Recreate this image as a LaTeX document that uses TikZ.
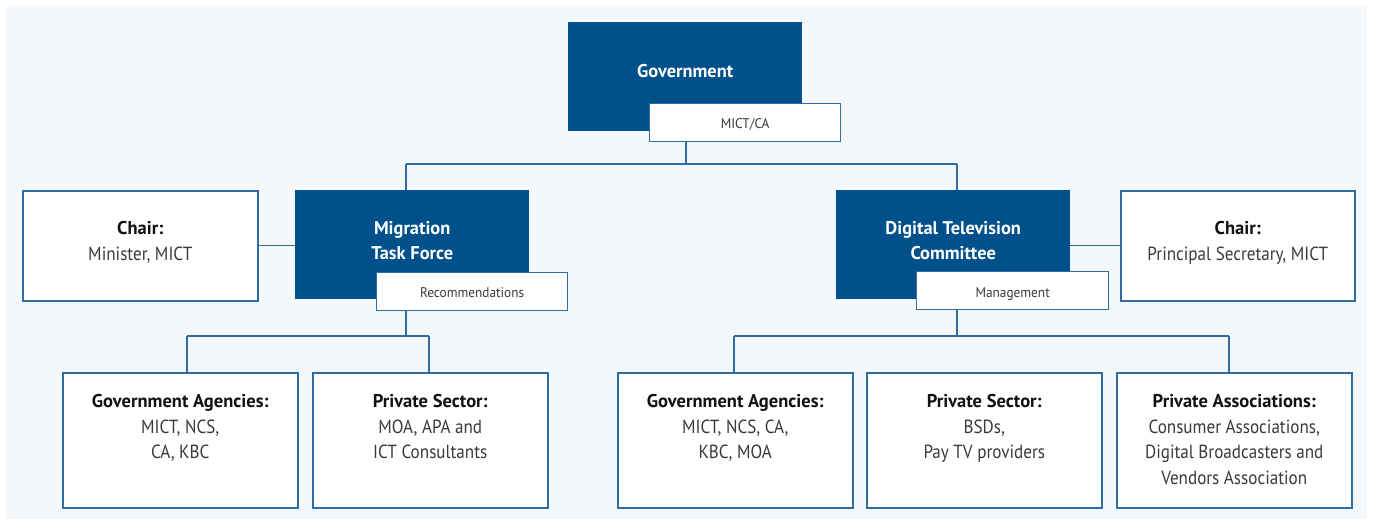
\documentclass[tikz,border=0pt]{standalone}
\usepackage{fontspec}
\setmainfont{PT Sans}
\newfontfamily\condfont{PT Sans}[FakeStretch=0.9]
\newfontfamily\tagfont{PT Sans}[FakeStretch=0.95]
\definecolor{dkblue}{HTML}{00518B}
\definecolor{lnblue}{HTML}{2F6EA3}
\definecolor{bgcol}{HTML}{F4F8FA}
\definecolor{headtxt}{HTML}{111111}
\definecolor{bodytxt}{HTML}{3A3A3A}
\newcommand{\hd}[1]{\textcolor{headtxt}{\fontsize{18.5}{25.5}\selectfont\rmfamily\bfseries #1}}
\begin{document}
\begin{tikzpicture}[x=1pt,y=-1pt,
  darkbox/.style={fill=dkblue, draw=none, anchor=north west, inner sep=0pt},
  whitebox/.style={fill=white, draw=lnblue, line width=1.5pt, anchor=north west, inner sep=0pt},
  tagbox/.style={fill=white, draw=lnblue, line width=1.3pt, anchor=north west, inner sep=0pt},
  conn/.style={draw=lnblue, line width=1.3pt},
  darktxt/.style={text=white, font=\fontsize{18.4}{25.5}\selectfont\bfseries, align=center, inner sep=0pt},
  boxtxt/.style={text=bodytxt, font=\condfont\fontsize{19}{25.5}\selectfont, align=center, inner sep=0pt, anchor=north},
  tagtxt/.style={text=bodytxt, font=\tagfont\fontsize{14}{16}\selectfont, inner sep=0pt}
]
\useasboundingbox (0,0) rectangle (1373,519);
\fill[bgcol] (6,6) rectangle (1367,519);

% top level
\node[darkbox, minimum width=234pt, minimum height=109pt] (gov) at (568,22) {};
\node[darktxt] (govt) at ([yshift=6pt]gov.center) {Government};
\node[tagbox, minimum width=191pt, minimum height=38pt] (mict) at (649,103) {};
\node[tagtxt] (mictt) at ([yshift=-2pt]mict.center) {MICT/CA};

% second level
\node[darkbox, minimum width=234pt, minimum height=109pt] (mtf) at (295,190) {};
\node[darktxt] (mtft) at ([yshift=4pt]mtf.center) {Migration\\Task Force};
\node[tagbox, minimum width=191pt, minimum height=38pt] (rec) at (376,272) {};
\node[tagtxt] (rect) at ([yshift=-1pt]rec.center) {Recommendations};

\node[whitebox, minimum width=235pt, minimum height=110pt] (chl) at (22,190) {};
\node[boxtxt] (chlt) at ([yshift=-31.5pt]chl.north) {\hd{Chair:}\\Minister, MICT};

\node[darkbox, minimum width=234pt, minimum height=109pt] (dtv) at (836,190) {};
\node[darktxt] (dtvt) at ([yshift=4pt]dtv.center) {Digital Television\\Committee};
\node[tagbox, minimum width=192pt, minimum height=38pt] (man) at (916,271) {};
\node[tagtxt] (mant) at ([yshift=-3pt]man.center) {Management};

\node[whitebox, minimum width=234pt, minimum height=110pt] (chr) at (1120,190) {};
\node[boxtxt] (chrt) at ([yshift=-31.5pt]chr.north) {\hd{Chair:}\\Principal Secretary, MICT};

% bottom level
\node[whitebox, minimum width=235pt, minimum height=135pt] (ga1) at (62,372) {};
\node[boxtxt] (ga1t) at ([yshift=-22.5pt]ga1.north) {\hd{Government Agencies:}\\MICT, NCS,\\CA, KBC};
\node[whitebox, minimum width=235pt, minimum height=135pt] (ps1) at (312,372) {};
\node[boxtxt] (ps1t) at ([yshift=-22.5pt]ps1.north) {\hd{Private Sector:}\\MOA, APA and\\ICT Consultants};

\node[whitebox, minimum width=235pt, minimum height=135pt] (ga2) at (617,372) {};
\node[boxtxt] (ga2t) at ([yshift=-22.5pt]ga2.north) {\hd{Government Agencies:}\\MICT, NCS, CA,\\KBC, MOA};
\node[whitebox, minimum width=235pt, minimum height=135pt] (ps2) at (866,372) {};
\node[boxtxt] (ps2t) at ([yshift=-22.5pt]ps2.north) {\hd{Private Sector:}\\BSDs,\\Pay TV providers};
\node[whitebox, minimum width=235pt, minimum height=135pt] (pa2) at (1116,372) {};
\node[boxtxt] (pa2t) at ([yshift=-22.5pt]pa2.north) {\hd{Private Associations:}\\Consumer Associations,\\Digital Broadcasters and\\Vendors Association};

% connectors
\coordinate (hub) at (686,164);
\coordinate (tl) at (406,164);
\coordinate (tr) at (957,164);
\draw[conn] (mict.south -| hub) -- (hub);
\draw[conn] (tl) -- (tr);
\draw[conn] (tl) -- (tl |- mtf.north);
\draw[conn] (tr) -- (tr |- dtv.north);
\draw[conn] (chl.east) -- (chl.east -| mtf.west);
\draw[conn] (dtv.east |- chr.west) -- (chr.west);

\coordinate (bl) at (406,336);
\coordinate (bl1) at (187,336);
\coordinate (bl2) at (429,336);
\draw[conn] (rec.south -| bl) -- (bl);
\draw[conn] (bl1) -- (bl2);
\draw[conn] (bl1) -- (bl1 |- ga1.north);
\draw[conn] (bl2) -- (bl2 |- ps1.north);

\coordinate (br) at (957,336);
\coordinate (br1) at (734,336);
\coordinate (br2) at (1229,336);
\draw[conn] (man.south -| br) -- (br);
\draw[conn] (br1) -- (br2);
\draw[conn] (br1) -- (br1 |- ga2.north);
\draw[conn] (br2) -- (br2 |- pa2.north);
\end{tikzpicture}
\end{document}
